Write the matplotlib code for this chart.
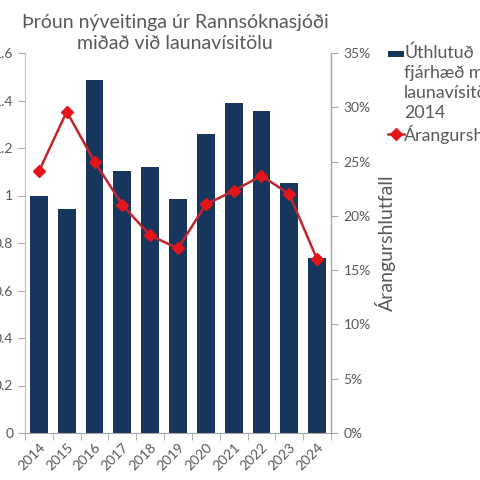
import matplotlib
matplotlib.use("Agg")
import matplotlib.pyplot as plt
from matplotlib.patches import Rectangle
from matplotlib.lines import Line2D
from matplotlib.ticker import FuncFormatter, PercentFormatter

# data
years = ["2014", "2015", "2016", "2017", "2018", "2019", "2020", "2021", "2022", "2023", "2024"]
upphaed = [1.00, 0.944, 1.488, 1.102, 1.118, 0.987, 1.257, 1.39, 1.355, 1.053, 0.735]
arangur = [24.1, 29.6, 25.0, 21.0, 18.2, 17.0, 21.05, 22.3, 23.7, 22.0, 16.0]
bar_label = 'Úthlutuð\nfjárhæð m.v.\nlaunavísitölu\n2014'
line_label = 'Árangurshlutfall'

plt.rcParams['font.family'] = ['Lato', 'DejaVu Sans']
txt = '#595959'
navy = '#17365D'
red_line = '#C0262C'
red_mark = '#E3151B'

fig = plt.figure(figsize=(4.8, 4.8), dpi=100)
ax = fig.add_axes([25/480, 47/480, 306/480, 380/480])
ax2 = ax.twinx()

x = list(range(len(years)))
ax.bar(x, upphaed, width=0.64, color=navy, zorder=2)
ax2.plot(x, arangur, color=red_line, lw=1.8, marker='D', ms=6, mfc=red_mark, mec=red_mark, zorder=3)

ax.set_xlim(-0.5, len(years) - 0.5)
ax.set_ylim(0, 1.6)
ax.set_yticks([0, 0.2, 0.4, 0.6, 0.8, 1.0, 1.2, 1.4, 1.6])
ax.yaxis.set_major_formatter(FuncFormatter(lambda v, p: '0' if v == 0 else ('%g' % round(v, 1))))
ax2.set_ylim(0, 35)
ax2.set_yticks(range(0, 36, 5))
ax2.yaxis.set_major_formatter(PercentFormatter(decimals=0))

# year labels under bars, ticks between categories
ax.set_xticks(x)
ax.set_xticklabels(years, rotation=45, ha='right', rotation_mode='anchor', color=txt, fontsize=10)
ax.set_xticks([i - 0.5 for i in range(len(years) + 1)], minor=True)
ax.tick_params(axis='x', which='major', length=0, pad=6)
ax.tick_params(axis='x', which='minor', length=5, color='#A6A6A6', direction='out')
ax.tick_params(axis='y', length=5, color='#A6A6A6', labelcolor=txt, labelsize=10)
ax2.tick_params(axis='y', length=5, color='#A6A6A6', labelcolor=txt, labelsize=10, pad=4)

for a in (ax, ax2):
    a.spines['top'].set_visible(False)
ax.spines['left'].set_color('#C9C0AE')
ax.spines['bottom'].set_color('#A6A6A6')
ax2.spines['right'].set_color('#A6A6A6')
ax2.spines['left'].set_visible(False)
ax2.spines['bottom'].set_visible(False)

ax2.set_ylabel('Árangurshlutfall', color=txt, fontsize=14, labelpad=3)

fig.text(175/480, 1 - 33/480, 'Þróun nýveitinga úr Rannsóknasjóði\nmiðað við launavísitölu',
         ha='center', va='center', fontsize=14, color=txt, linespacing=1.35)

# legend drawn by hand so the swatch sits on the first line (Excel style)
fig.patches.append(Rectangle((388/480, 1 - 57/480), 16/480, 6/480, transform=fig.transFigure,
                             facecolor=navy, edgecolor='none'))
fig.text(404/480, 1 - 45/480, bar_label, ha='left', va='top', fontsize=12.8, color=txt, linespacing=1.3)
fig.lines.append(Line2D([388/480, 404/480], [1 - 134/480, 1 - 134/480], transform=fig.transFigure,
                        color=red_line, lw=1.8))
fig.lines.append(Line2D([396/480], [1 - 134/480], transform=fig.transFigure, marker='D', ms=6,
                        mfc=red_mark, mec=red_mark, lw=0))
fig.text(404/480, 1 - 134/480, line_label, ha='left', va='center', fontsize=12.8, color=txt)

fig.savefig('out.png', dpi=100)
